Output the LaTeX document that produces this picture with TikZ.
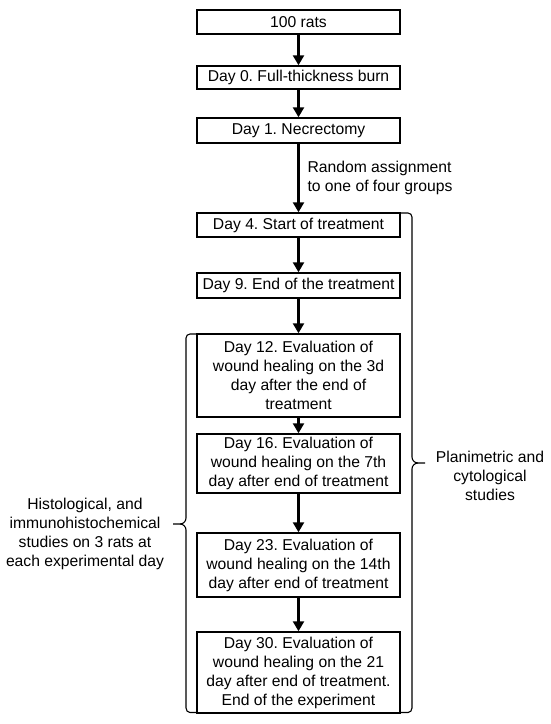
\documentclass[tikz,border=0pt]{standalone}
\usepackage{fontspec}
\setmainfont{Liberation Sans}
\usetikzlibrary{arrows.meta, positioning}
\frenchspacing

\begin{document}
\begin{tikzpicture}[
    x=1pt, y=-1pt,
    box/.style={rectangle, draw, line width=1.5pt, minimum width=203pt, inner sep=2pt, align=center, font=\fontsize{15.7}{19}\selectfont},
    arrow/.style={-{Triangle[width=11pt,length=10pt]}, line width=3pt},
    bracket/.style={line width=1.1pt},
    note/.style={align=center, font=\fontsize{15.7}{19}\selectfont}
]
\useasboundingbox (0,0) rectangle (550,724);

% Main sequence of steps
\node[box, minimum height=24pt] (rats) at (298.5,22) {100 rats};
\node[box, minimum height=23pt] (burn) at (298.5,77.5) {Day 0. Full-thickness burn};
\node[box, minimum height=25pt] (necro) at (298.5,130.5) {Day 1. Necrectomy};
\node[box, minimum height=24pt] (start) at (298.5,225) {Day 4. Start of treatment};
\node[box, minimum height=25pt] (stop) at (298.5,285.5) {Day 9. End of the treatment};
\node[box, minimum height=83pt] (day12) at (298.5,375.5) {Day 12. Evaluation of\\wound healing on the 3d\\day after the end of\\treatment};
\node[box, minimum height=59pt] (day16) at (298.5,463.5) {Day 16. Evaluation of\\wound healing on the 7th\\day after end of treatment};
\node[box, minimum height=64pt] (day23) at (298.5,565) {Day 23. Evaluation of\\wound healing on the 14th\\day after end of treatment};
\node[box, minimum height=81pt] (day30) at (298.5,672.5) {Day 30. Evaluation of\\wound healing on the 21\\day after end of treatment.\\End of the experiment};

% Arrows
\draw[arrow] (rats) -- (burn);
\draw[arrow] (burn) -- (necro);
\draw[arrow] (necro) -- (start);
\draw[arrow] (start) -- (stop);
\draw[arrow] (stop) -- (day12);
\draw[arrow] (day12) -- (day16);
\draw[arrow] (day16) -- (day23);
\draw[arrow] (day23) -- (day30);

% Assignment note
\node[note, align=left, anchor=west] (assign) at (304,178) {Random assignment\\to one of four groups};

% Right bracket
\draw[bracket] (401,213) -- (408,213) to[out=0,in=90] (412,217) -- (412,457)
    to[out=-90,in=180] (418,463) -- (425,463);
\draw[bracket] (418,463) to[out=180,in=90] (412,469) -- (412,708)
    to[out=-90,in=0] (408,712.5) -- (401,712.5);
\node[note] (plani) at (490,476) {Planimetric and\\cytological\\studies};

% Left bracket
\draw[bracket] (197,334) -- (190,334) to[out=180,in=90] (186,338) -- (186,518)
    to[out=-90,in=0] (180,524) -- (173,524);
\draw[bracket] (180,524) to[out=0,in=90] (186,530) -- (186,708)
    to[out=-90,in=180] (190,712.5) -- (197,712.5);
\node[note] (histo) at (85,534) {Histological, and\\immunohistochemical\\studies on 3 rats at\\each experimental day};
\end{tikzpicture}
\end{document}
